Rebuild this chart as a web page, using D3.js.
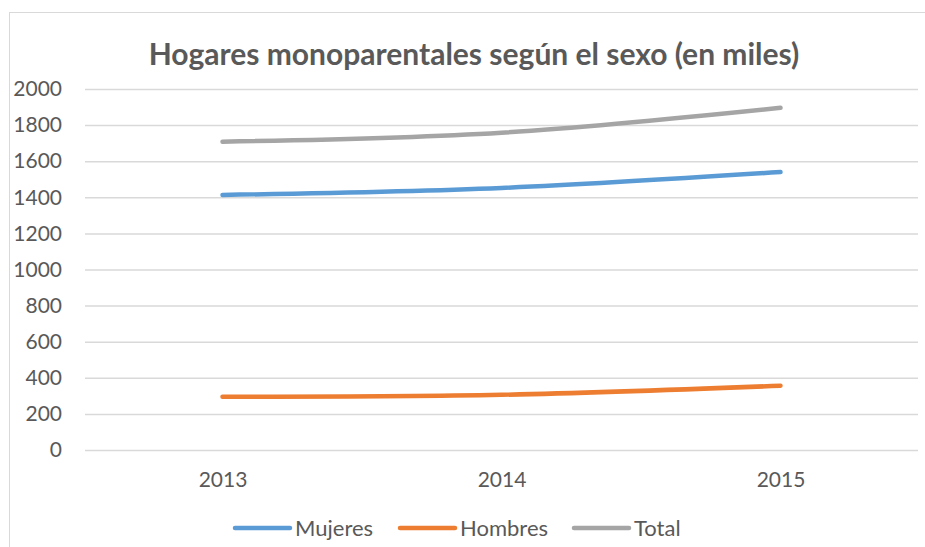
<!DOCTYPE html>
<html><head><meta charset="utf-8">
<script src="https://cdn.jsdelivr.net/npm/d3@7"></script>
<style>
html,body{margin:0;padding:0;background:#fff;}
svg{display:block;}
text{font-family:Lato, "Open Sans", sans-serif;fill:#595959;}
</style></head>
<body>
<svg id="chart" width="925" height="547"></svg>
<script>
const categories = ["2013", "2014", "2015"];
const mujeres = [1413, 1452, 1540];
const hombres = [295, 306, 356];
const total = [1708, 1758, 1896];
const seriesNames = ["Mujeres", "Hombres", "Total"];
const seriesColors = ["#5B9BD5", "#ED7D31", "#A5A5A5"];
const yTicks = [0, 200, 400, 600, 800, 1000, 1200, 1400, 1600, 1800, 2000];
const title = "Hogares monoparentales según el sexo (en miles)";

const series = [
  {name: seriesNames[0], values: mujeres, color: seriesColors[0]},
  {name: seriesNames[1], values: hombres, color: seriesColors[1]},
  {name: seriesNames[2], values: total, color: seriesColors[2]}
];

const svg = d3.select("#chart");
const W = 925, H = 547;
const plot = {left: 83, right: 920, top: 89, bottom: 450};

// chart area border
svg.append("rect").attr("x", 9.5).attr("y", 12.5).attr("width", W + 20).attr("height", H + 20)
  .attr("fill", "#fff").attr("stroke", "#d9d9d9").attr("stroke-width", 1);

const x = d3.scalePoint().domain(categories).range([plot.left, plot.right]).padding(0.5);
const y = d3.scaleLinear().domain([0, 2000]).range([plot.bottom, plot.top]);

// gridlines
const yAxis = d3.axisLeft(y).tickValues(yTicks).tickSize(-(918 - 85)).tickPadding(22).tickFormat(d3.format("d"));
const gy = svg.append("g").attr("transform", `translate(85,0)`).call(yAxis);
gy.select(".domain").remove();
gy.selectAll(".tick line").attr("stroke", "#d9d9d9").attr("stroke-width", 1.5);
gy.selectAll(".tick text").attr("font-size", 21).attr("fill", "#595959")
  .attr("font-family", "Lato").attr("x", -23);

// x axis labels
const xAxis = d3.axisBottom(x).tickSize(0).tickPadding(22);
const gx = svg.append("g").attr("transform", `translate(0,${plot.bottom})`).call(xAxis);
gx.select(".domain").remove();
gx.selectAll(".tick text").attr("font-size", 21).attr("fill", "#595959").attr("font-family", "Lato");

// lines
const line = d3.line().x((d, i) => x(categories[i])).y(d => y(d)).curve(d3.curveCatmullRom.alpha(0.5));
series.forEach(s => {
  svg.append("path").datum(s.values).attr("d", line)
    .attr("fill", "none").attr("stroke", s.color).attr("stroke-width", 4.5)
    .attr("stroke-linecap", "round").attr("stroke-linejoin", "round");
});

// title
svg.append("text").attr("x", 474).attr("y", 65).attr("text-anchor", "middle")
  .attr("font-size", 30).attr("font-weight", "bold").attr("fill", "#595959").text(title);

// legend
const legendX = [235, 400, 574];
const lg = svg.append("g");
series.forEach((s, i) => {
  const g = lg.append("g").attr("transform", `translate(${legendX[i]},528)`);
  g.append("line").attr("x1", 0).attr("x2", 55).attr("y1", 0).attr("y2", 0)
    .attr("stroke", s.color).attr("stroke-width", 4.5).attr("stroke-linecap", "round");
  g.append("text").attr("x", 60).attr("y", 0).attr("dy", "0.35em")
    .attr("font-size", 22).attr("fill", "#595959").text(s.name);
});
</script>
</body></html>
